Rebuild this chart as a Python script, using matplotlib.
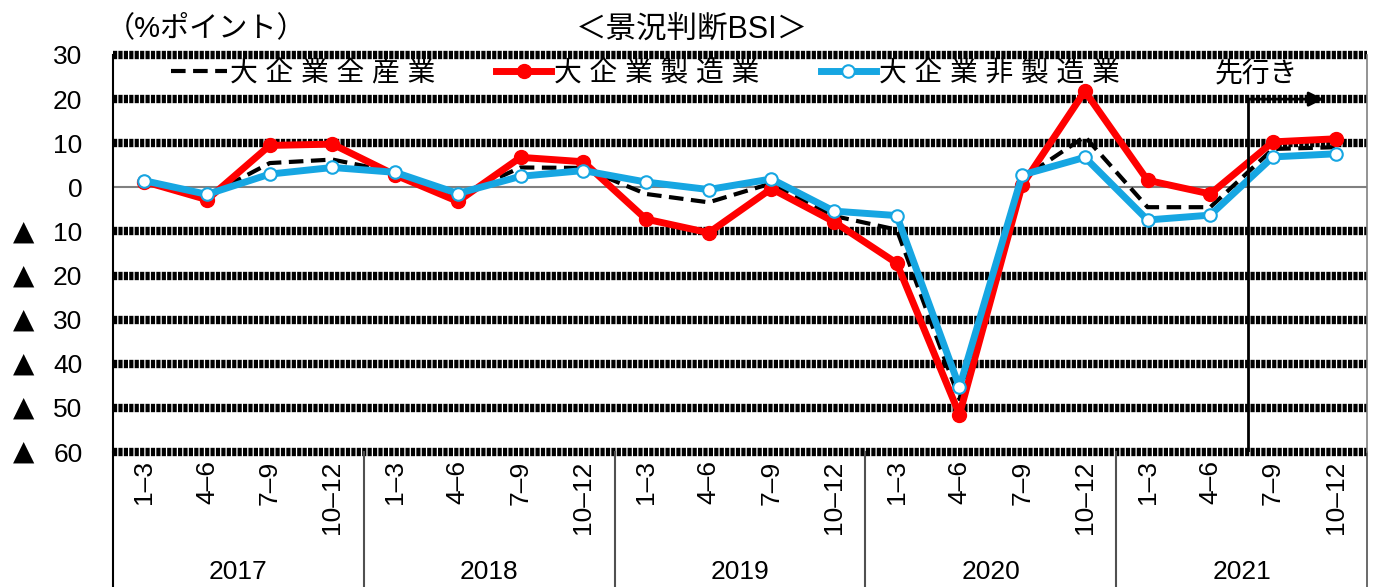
import numpy as np
import matplotlib
matplotlib.use("Agg")
import matplotlib.pyplot as plt
import matplotlib.transforms as mtransforms

plt.rcParams['font.family'] = ['Liberation Sans', 'Noto Sans CJK JP', 'DejaVu Sans']

# data
years = ["2017", "2018", "2019", "2020", "2021"]
quarters = ["1–3", "4–6", "7–9", "10–12"] * 5
all_industries = [1.5, -2.0, 5.5, 6.3, 3.4, -2.0, 4.5, 4.4, -1.5, -3.4,
                  0.9, -6.5, -9.6, -48.0, 2.0, 11.5, -4.5, -4.5, 8.7, 9.1]
manufacturing = [1.3, -2.8, 9.5, 9.8, 2.8, -3.2, 6.8, 5.8, -7.2, -10.3,
                 -0.3, -7.8, -17.2, -51.5, 0.5, 21.8, 1.6, -1.5, 10.3, 11.0]
non_manufacturing = [1.5, -1.6, 3.0, 4.5, 3.4, -1.4, 2.5, 3.8, 1.2, -0.5,
                     1.9, -5.4, -6.4, -45.3, 2.8, 6.8, -7.4, -6.3, 6.9, 7.6]
series_names = ["大 企 業 全 産 業", "大 企 業 製 造 業", "大 企 業 非 製 造 業"]
yticks = list(range(-60, 31, 10))

W, H = 1374, 587
fig = plt.figure(figsize=(W / 100, H / 100), dpi=100)
ax = fig.add_axes([113 / W, 1 - 452 / H, 1254 / W, 397 / H])
x = np.arange(len(quarters))
ax.set_xlim(-0.5, len(quarters) - 0.5)
ax.set_ylim(-60, 30)

# dotted "hatched" gridlines
for v in yticks:
    if v == 0:
        ax.axhline(0, color='#808080', lw=1.5, zorder=1)
    else:
        ax.axhline(v, color='black', lw=6, linestyle=(0, (0.5, 0.15)),
                   zorder=1, clip_on=False)

for s in ['top', 'bottom']:
    ax.spines[s].set_visible(False)
ax.spines['left'].set_color('black')
ax.spines['left'].set_linewidth(1.5)
ax.spines['right'].set_color('#808080')
ax.spines['right'].set_linewidth(1.2)

# year separators below the plot
xt = ax.get_xaxis_transform()
for i in range(len(years) + 1):
    b = 4 * i - 0.5
    ax.plot([b, b], [0, -0.36], transform=xt, clip_on=False,
            color='black' if i == 0 else '#505050', lw=1.5 if i < 5 else 1.2)
for i, yr in enumerate(years):
    ax.text(4 * i + 1.5, -0.303, yr, transform=xt, ha='center', va='center',
            fontsize=19)

ax.set_yticks(yticks)
ax.set_yticklabels([str(abs(v)) for v in yticks])
ax.tick_params(axis='y', length=0, pad=22, labelsize=19)
ax.set_xticks(x)
ax.set_xticklabels(quarters, rotation=90)
ax.tick_params(axis='x', length=0, pad=6, labelsize=19)

tri = mtransforms.blended_transform_factory(fig.transFigure, ax.transData)
for v in yticks:
    if v < 0:
        fig.text(24 / W, v, "▲", transform=tri, ha='center', va='center',
                 fontsize=20, family=['DejaVu Sans'])

# series
ax.plot(x, all_industries, color='black', lw=3, dashes=(3.5, 1.8), zorder=3,
        label=series_names[0])
ax.plot(x, manufacturing, color='#FF0000', lw=5, marker='o', ms=10, zorder=4,
        label=series_names[1])
ax.plot(x, non_manufacturing, color='#16A6E2', lw=5, marker='o', ms=9,
        mfc='white', mec='#16A6E2', mew=1.5, zorder=5, label=series_names[2])

ax.legend(loc='upper left', bbox_to_anchor=(0.042, 1.0), ncol=3, frameon=False,
          fontsize=20, handlelength=2.0, handletextpad=0.1, columnspacing=2.2,
          borderaxespad=0, borderpad=0.2)

# forecast marker
ax.plot([17.6, 17.6], [-60, 20], color='black', lw=2, zorder=6)
ax.annotate('', xy=(18.85, 20), xytext=(17.55, 20),
            arrowprops=dict(arrowstyle='-|>', color='black', lw=2,
                            mutation_scale=22), zorder=6)
ax.text(17.73, 25.5, "先行き", ha='center', va='center', fontsize=20)

fig.text(692 / W, 1 - 30 / H, "＜景況判断BSI＞", ha='center', va='center',
         fontsize=22)
fig.text(106 / W, 1 - 28 / H, "（%ポイント）", ha='left', va='center',
         fontsize=21)

fig.savefig("out.png", dpi=100)
